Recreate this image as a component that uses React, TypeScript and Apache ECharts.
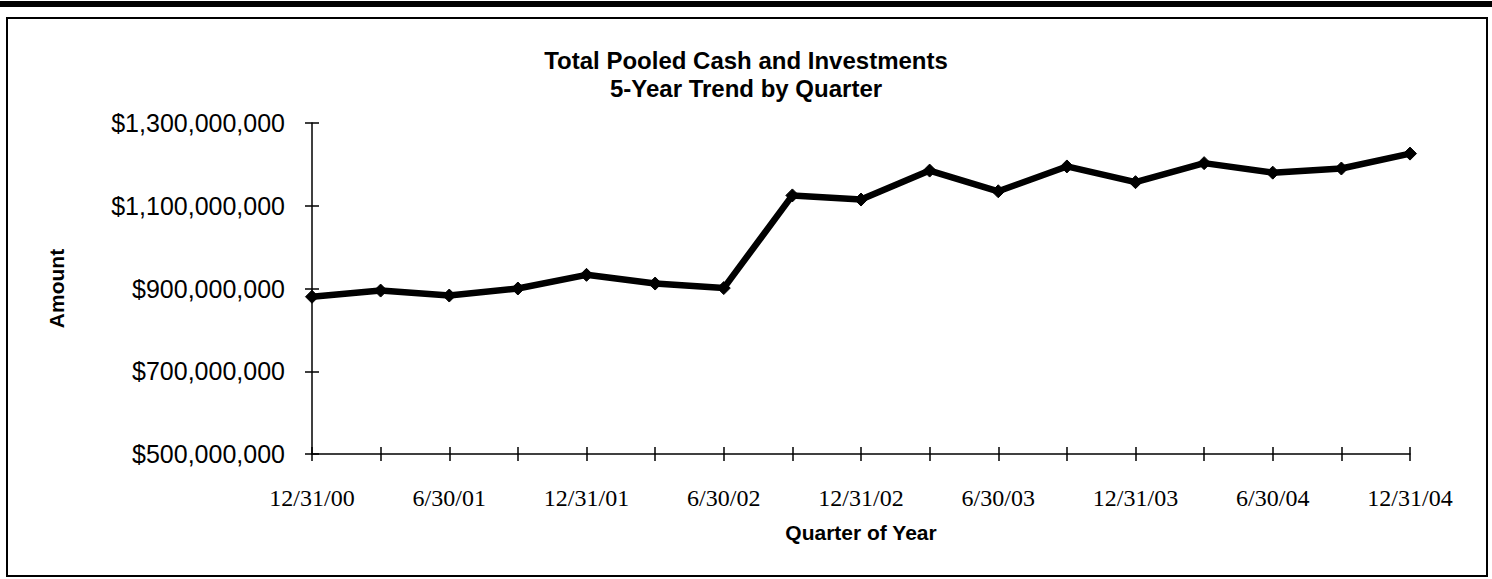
import React, { useEffect, useRef } from "react";
import * as echarts from "echarts";

const categories = [
  "12/31/00", "3/31/01", "6/30/01", "9/30/01", "12/31/01", "3/31/02", "6/30/02",
  "9/30/02", "12/31/02", "3/31/03", "6/30/03", "9/30/03", "12/31/03", "3/31/04",
  "6/30/04", "9/30/04", "12/31/04",
];
const amounts = [
  880000000, 895000000, 883000000, 900000000, 933000000, 912000000, 901000000,
  1125000000, 1115000000, 1185000000, 1135000000, 1195000000, 1157000000, 1203000000,
  1180000000, 1190000000, 1226000000,
];
const titleLines = ["Total Pooled Cash and Investments", "5-Year Trend by Quarter"];
const yAxisName = "Amount";
const xAxisName = "Quarter of Year";
const yMin = 500000000;
const yMax = 1300000000;
const yStep = 200000000;

const fmtMoney = (v: number) => "$" + Math.round(v).toLocaleString("en-US");

export default function App() {
  const ref = useRef<HTMLDivElement>(null);
  useEffect(() => {
    if (!ref.current) return;
    const chart = echarts.init(ref.current, null, { renderer: "svg" });
    const sans = "'Liberation Sans', Arial, sans-serif";
    const serif = "'Liberation Serif', 'Times New Roman', serif";
    const grid = { left: 312, right: 82, top: 123, bottom: 125 };
    chart.setOption({
      animation: false,
      backgroundColor: "#ffffff",
      title: {
        text: titleLines.join("\n"),
        left: "center",
        top: 41,
        textStyle: { fontFamily: sans, fontWeight: "bold", fontSize: 24, lineHeight: 28, color: "#000" },
      },
      graphic: [
        { type: "rect", shape: { x: 0, y: 1, width: 1492, height: 6 }, style: { fill: "#000" }, silent: true },
        {
          type: "rect",
          shape: { x: 7, y: 18, width: 1480, height: 558 },
          style: { fill: "none", stroke: "#000", lineWidth: 2 },
          silent: true,
        },
      ],
      grid,
      xAxis: [
        {
          type: "category",
          data: categories,
          boundaryGap: false,
          name: xAxisName,
          nameLocation: "middle",
          nameGap: 68,
          nameTextStyle: { fontFamily: sans, fontWeight: "bold", fontSize: 21, color: "#000" },
          axisLine: { lineStyle: { color: "#000", width: 1.5 } },
          axisTick: { show: true, interval: 0, length: 7, lineStyle: { color: "#000", width: 1.5 } },
          axisLabel: { interval: 1, margin: 32, fontFamily: serif, fontSize: 24, color: "#000" },
          splitLine: { show: false },
        },
        {
          type: "category",
          data: categories,
          boundaryGap: false,
          position: "bottom",
          axisLine: { show: false },
          axisTick: { show: true, inside: true, interval: 0, length: 7, lineStyle: { color: "#000", width: 1.5 } },
          axisLabel: { show: false },
          splitLine: { show: false },
        },
      ],
      yAxis: [
        {
          type: "value",
          min: yMin,
          max: yMax,
          interval: yStep,
          name: yAxisName,
          nameLocation: "middle",
          nameGap: 245,
          nameRotate: 90,
          nameTextStyle: { fontFamily: sans, fontWeight: "bold", fontSize: 21, color: "#000" },
          axisLine: { show: true, lineStyle: { color: "#000", width: 1.5 } },
          axisTick: { show: true, length: 7, lineStyle: { color: "#000", width: 1.5 } },
          axisLabel: { margin: 27, fontFamily: sans, fontSize: 25, color: "#000", formatter: fmtMoney },
          splitLine: { show: false },
        },
        {
          type: "value",
          min: yMin,
          max: yMax,
          interval: yStep,
          position: "left",
          axisLine: { show: false },
          axisTick: { show: true, inside: true, length: 7, lineStyle: { color: "#000", width: 1.5 } },
          axisLabel: { show: false },
          splitLine: { show: false },
        },
      ],
      series: [
        {
          type: "line",
          data: amounts,
          xAxisIndex: 0,
          yAxisIndex: 0,
          symbol: "diamond",
          symbolSize: 13,
          lineStyle: { color: "#000", width: 6.5 },
          itemStyle: { color: "#000", borderColor: "#000", borderWidth: 1 },
        },
      ],
    });
    return () => chart.dispose();
  }, []);
  return (
    <div
      ref={ref}
      style={{ position: "fixed", left: 0, top: 0, width: 1492, height: 579, background: "#fff" }}
    />
  );
}
